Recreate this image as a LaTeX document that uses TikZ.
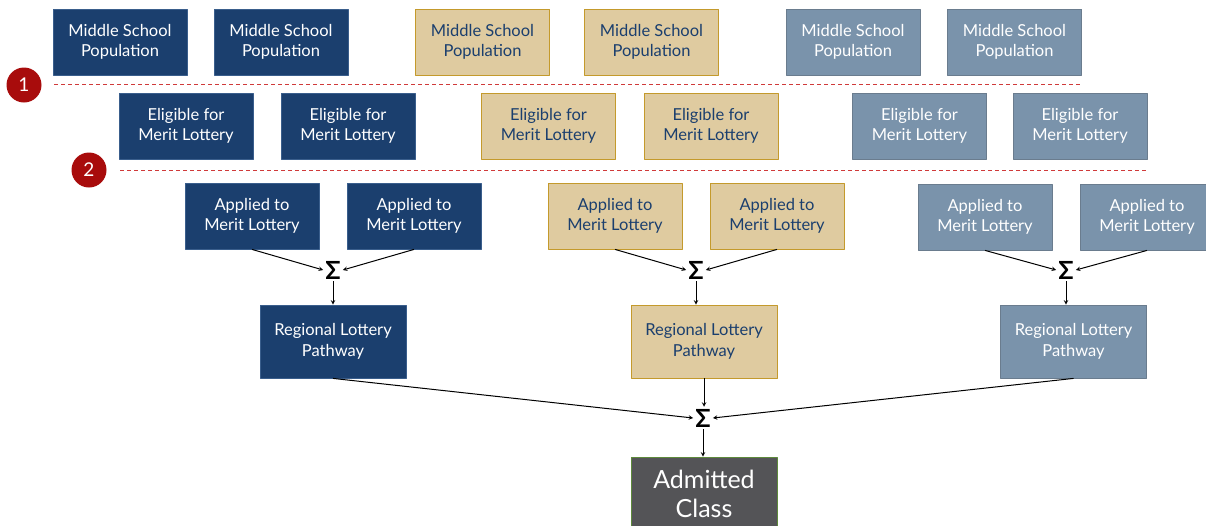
\documentclass[tikz,border=0pt]{standalone}
\usepackage{fontspec}
\setmainfont{Lato}
\definecolor{navy}{HTML}{1B3F6E}
\definecolor{navyline}{HTML}{3A5E8C}
\definecolor{tan}{HTML}{DFCBA0}
\definecolor{gold}{HTML}{C49A2C}
\definecolor{slate}{HTML}{7A93AB}
\definecolor{slateline}{HTML}{6A7C8E}
\definecolor{dashred}{HTML}{D03A3A}
\definecolor{dotred}{HTML}{A80C0C}
\definecolor{admit}{HTML}{545457}
\definecolor{admitline}{HTML}{5E8A3C}
\begin{document}
\begin{tikzpicture}[x=1pt,y=-1pt,line join=round,>=stealth,
	box/.style={rectangle,minimum width=134pt,minimum height=66pt,inner sep=0pt,align=center,
		font=\fontsize{16.5}{20.5}\selectfont,line width=0.8pt},
	bigbox/.style={box,minimum width=146pt,minimum height=73pt},
	navybox/.style={fill=navy,draw=navyline,text=white},
	tanbox/.style={fill=tan,draw=gold,text=navy},
	slatebox/.style={fill=slate,draw=slateline,text=white},
	sum/.style={inner sep=2pt,font=\fontsize{25}{25}\selectfont\bfseries},
	step dot/.style={circle,fill=dotred,text=white,minimum size=35pt,inner sep=0pt,font=\fontsize{19}{19}\selectfont},
	cut/.style={draw=dashred,dashed,line width=0.8pt,dash pattern=on 4pt off 3pt},
	flow/.style={->,line width=1pt}]
	\useasboundingbox (0,0) rectangle (1206,525);
	% middle school population
	\node[box,navybox] (pop1) at (120,42) {Middle School\\Population};
	\node[box,navybox] (pop2) at (281,42) {Middle School\\Population};
	\node[box,tanbox] (pop3) at (482.5,42) {Middle School\\Population};
	\node[box,tanbox] (pop4) at (651.5,42) {Middle School\\Population};
	\node[box,slatebox] (pop5) at (853,42) {Middle School\\Population};
	\node[box,slatebox] (pop6) at (1014.5,42) {Middle School\\Population};
	% cut 1
	\node[step dot] (one) at (24,85) {1};
	\draw[cut] (54,84) -- (1080,84);
	% eligible
	\node[box,navybox] (elig1) at (186,126) {Eligible for\\Merit Lottery};
	\node[box,navybox] (elig2) at (348,126) {Eligible for\\Merit Lottery};
	\node[box,tanbox] (elig3) at (548.5,126) {Eligible for\\Merit Lottery};
	\node[box,tanbox] (elig4) at (711,126) {Eligible for\\Merit Lottery};
	\node[box,slatebox] (elig5) at (919.5,126) {Eligible for\\Merit Lottery};
	\node[box,slatebox] (elig6) at (1080,126) {Eligible for\\Merit Lottery};
	% cut 2
	\node[step dot] (two) at (89,170) {2};
	\draw[cut] (120,170) -- (1147,170);
	% applied
	\node[box,navybox] (app1) at (252,216) {Applied to\\Merit Lottery};
	\node[box,navybox] (app2) at (414,216) {Applied to\\Merit Lottery};
	\node[box,tanbox] (app3) at (615,216) {Applied to\\Merit Lottery};
	\node[box,tanbox] (app4) at (777,216) {Applied to\\Merit Lottery};
	\node[box,slatebox] (app5) at (985,217) {Applied to\\Merit Lottery};
	\node[box,slatebox] (app6) at (1147,217) {Applied to\\Merit Lottery};
	% sums
	\node[sum] (sumA) at (333,270) {Σ};
	\node[sum] (sumB) at (696,270) {Σ};
	\node[sum] (sumC) at (1066,270) {Σ};
	\draw[flow] (app1.south) -- (sumA.west);
	\draw[flow] (app2.south) -- (sumA.east);
	\draw[flow] (app3.south) -- (sumB.west);
	\draw[flow] (app4.south) -- (sumB.east);
	\draw[flow] (app5.south) -- (sumC.west);
	\draw[flow] (app6.south) -- (sumC.east);
	% regional
	\node[bigbox,navybox] (reg1) at (333,341.5) {Regional Lottery\\Pathway};
	\node[bigbox,tanbox] (reg2) at (704,341.5) {Regional Lottery\\Pathway};
	\node[bigbox,slatebox] (reg3) at (1073.5,341.5) {Regional Lottery\\Pathway};
	\draw[flow] (sumA.south) -- (reg1.north);
	\draw[flow] (sumB.south) -- (sumB.south |- reg2.north);
	\draw[flow] (sumC.south) -- (sumC.south |- reg3.north);
	% admitted
	\node[sum] (total) at (703,418) {Σ};
	\draw[flow] (reg1.south) -- (total.west);
	\draw[flow] (reg2.south) -- (total.north -| reg2.south);
	\draw[flow] (reg3.south) -- (total.east);
	\node[bigbox,fill=admit,draw=admitline,text=white,font=\fontsize{25}{29}\selectfont] (admitted) at (704,493.5) {Admitted\\Class};
	\draw[flow] (total.south) -- (admitted.north -| total.south);
\end{tikzpicture}
\end{document}
